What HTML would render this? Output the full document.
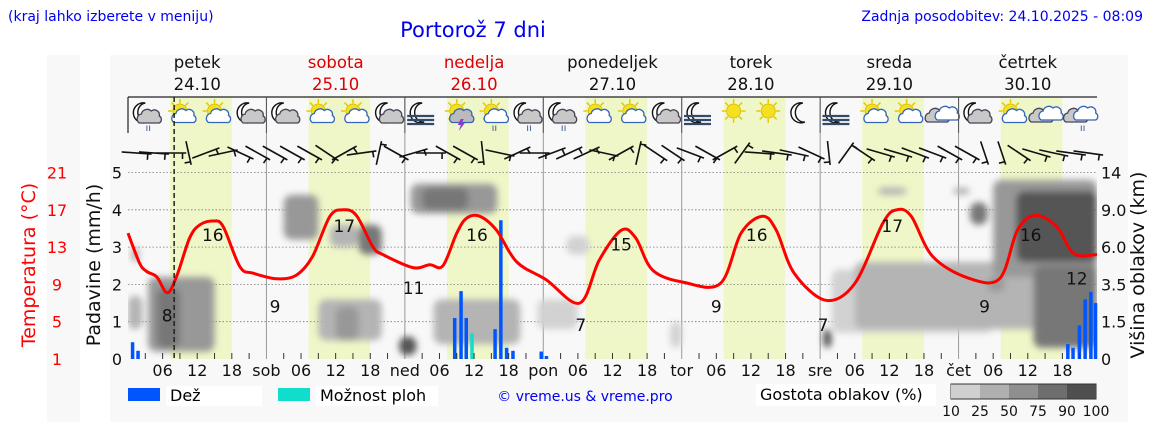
<!DOCTYPE html>
<html><head><meta charset="utf-8"><style>
body{margin:0;background:#fff;font-family:"Liberation Sans","DejaVu Sans",sans-serif;}
svg text{font-family:"DejaVu Sans","Liberation Sans",sans-serif;}
</style></head><body>
<svg id="chart" width="1152" height="443" viewBox="0 0 1152 443" xmlns="http://www.w3.org/2000/svg">
<defs>
<filter id="blur" x="-20%" y="-20%" width="140%" height="140%"><feGaussianBlur stdDeviation="3.5"/></filter>
<clipPath id="plotclip"><rect x="128" y="97" width="969" height="262"/></clipPath>
</defs>
<rect x="47" y="55" width="33" height="367" fill="#f8f8f8"/>
<rect x="110" y="55" width="1018" height="367" fill="#f8f8f8"/>
<text x="8" y="21" font-size="14" fill="#0000ee">(kraj lahko izberete v meniju)</text>
<text x="473" y="37" font-size="21" fill="#0000ee" text-anchor="middle">Portorož 7 dni</text>
<text x="1143" y="21" font-size="14" fill="#0000ee" text-anchor="end">Zadnja posodobitev: 24.10.2025 - 08:09</text>
<g id="bands"></g>
<g id="grid"></g>
<g id="clouds" clip-path="url(#plotclip)"><g id="cloudsb" filter="url(#blur)"></g></g>
<g id="bars"></g>
<g id="temp"></g>
<g id="icons"></g>
<g id="wind"></g>
<g id="axes"></g>
<g id="legend">
<rect x="128" y="388" width="32" height="13" fill="#0055ff"/>
<rect x="166" y="386" width="96" height="20" fill="#fff"/>
<text x="170" y="401" font-size="16">Dež</text>
<rect x="278" y="388" width="32" height="13" fill="#11ddcc"/>
<rect x="316" y="386" width="122" height="20" fill="#fff"/>
<text x="320" y="401" font-size="16">Možnost ploh</text>
<text x="585" y="401" font-size="14" fill="#0000ee" text-anchor="middle">© vreme.us &amp; vreme.pro</text>
<rect x="756" y="384" width="180" height="22" fill="#fff"/>
<text x="760" y="400" font-size="16">Gostota oblakov (%)</text>
<g id="cscale"></g>
</g>
</svg>
<script>
const NS='http://www.w3.org/2000/svg';
const tempHours=[0,2,3.2,5,6.8,8.4,10.7,12.5,14.8,16.5,19.4,21.7,25.8,29.2,32,35,37.3,39.6,42.5,44.2,49.4,52.3,54.6,57,58.7,61,63.9,67.4,72.5,78.3,81.7,85.5,88,91,96.5,102.7,106.3,110,112.4,115.5,121,126,130.9,133.3,135.8,139.5,145.6,151.1,154.2,157.3,161,164,168];
const tempValues=[14.5,11.3,10.4,9.8,8.1,9.8,14.0,15.4,15.8,15.2,10.9,10.2,9.6,10.0,12.0,16.3,17.0,16.4,13.0,12.2,10.8,11.1,11.0,14.5,16.1,16.3,14.8,11.4,9.5,7.0,11.6,14.8,14.0,10.5,9.2,9.1,14.5,16.3,14.8,10.2,7.3,9.1,15.6,17.0,16.3,12.0,9.7,9.6,14.8,16.4,15.2,12.3,12.2];
const tempLabelHours=[6.8,14.7,25.5,37.5,49.5,60.5,78.5,85.5,102,109,120.5,132.5,148.5,156.5,164.5];
const tempLabelValues=[8,16,9,17,11,16,7,15,9,16,7,17,9,16,12];
const rainHours=[0.75,1.7,56.6,57.7,58.6,63.6,64.6,65.6,66.7,71.6,72.5,162.9,163.8,164.9,165.9,166.9,167.7];
const rainValues=[0.45,0.22,1.1,1.82,1.1,0.8,3.72,0.3,0.22,0.2,0.08,0.4,0.3,0.9,1.6,1.8,1.5];
const showerHours=[59.6];
const showerValues=[0.7];
const dayNames=['petek','sobota','nedelja','ponedeljek','torek','sreda','četrtek'];
const dayDates=['24.10','25.10','26.10','27.10','28.10','29.10','30.10'];
const dayShort=['','sob','ned','pon','tor','sre','čet'];
const leftTicks=['1','5','9','13','17','21'];
const rightTicks=['0','1.5','3.5','6.0','9.0','14'];
const cloudStart=[0,0.5,3.5,5,27,33,36,35,40,53,49,51,47,71,76,94,120.5,122,126,130,143,146,150,154,157,149];
const cloudEnd=[2.5,2,15,9,33,44,40,40,44,68,64,59,50,78,80,96,122,150,168,135,146,149,168,168,168,152];
const cloudLow=[0.8,2.6,0.2,0.3,3.2,0.5,0.5,3.0,2.8,0.4,3.9,4.0,0.1,0.8,2.8,0.3,0.3,0.7,0.8,4.4,4.4,3.6,2.2,2.6,0.3,1.8];
const cloudHigh=[1.7,3.0,2.2,1.9,4.4,1.6,1.4,3.6,3.6,1.6,4.7,4.6,0.6,1.6,3.3,1.0,0.8,2.4,2.6,4.6,4.6,4.2,4.8,4.5,2.5,2.2];
const cloudDensity=[25,25,50,75,50,25,50,25,75,25,50,75,90,10,10,10,90,10,25,25,25,75,50,90,75,50];
const windDir=[5,5,0,80,-25,-15,30,35,35,35,35,40,-35,-10,-80,35,-20,0,35,35,85,15,-30,0,-25,-30,-30,15,-35,-80,40,40,25,35,-35,-60,5,10,15,30,85,-60,40,20,20,25,25,35,35,75,75,40,20,15,10,10];
const iconTypes=['mr','sc','sc','mc','mc','sc','sc','mc','fog','st','sr','mr','mr','sc','sc','mc','fog','s','s','m','fog','sc','sc','c','mc','sc','c','cr'];
const shade={10:'#d2d2d2',25:'#b4b4b4',50:'#989898',75:'#777777',90:'#555555',100:'#3c3c3c'};
const X0=128,W=969,YB=359,UNIT=37.3;
function X(h){return X0+h*W/168;}
function Y(v){return YB-v*UNIT;}
function YT(t){return Y((t-1)/4);}
function mk(tag,attrs,parent){const e=document.createElementNS(NS,tag);for(const k in attrs)e.setAttribute(k,attrs[k]);parent.appendChild(e);return e;}
const g=id=>document.getElementById(id);
mk('rect',{x:X0,y:97,width:W,height:262,fill:'#f8f8f8'},g('bands'));
for(let d=0;d<7;d++){
  const b=mk('rect',{x:X(d*24+7.3),y:97,width:X(d*24+18)-X(d*24+7.3),height:262,fill:'#eff7c8'},g('bands'));
  
  
}
for(let v=1;v<=5;v++){mk('line',{x1:X0,x2:X0+W,y1:Y(v),y2:Y(v),stroke:'#777','stroke-width':0.8,'stroke-dasharray':'1.5,2'},g('grid'));}
for(let d=1;d<7;d++){mk('line',{x1:X(d*24),x2:X(d*24),y1:97,y2:359,stroke:'#999','stroke-width':1},g('grid'));}
for(let i=0;i<cloudStart.length;i++){
  const r=mk('rect',{x:X(cloudStart[i]),y:Y(cloudHigh[i]),width:X(cloudEnd[i])-X(cloudStart[i]),height:(cloudHigh[i]-cloudLow[i])*UNIT,rx:8,fill:shade[cloudDensity[i]]},g('cloudsb'));
  
  
}
rainHours.forEach((h,i)=>{
  const r=mk('rect',{x:X(h)-1.5,y:Y(rainValues[i]),width:3.5,height:rainValues[i]*UNIT,fill:'#0055ff'},g('bars'));
  
  
});
showerHours.forEach((h,i)=>{
  const r=mk('rect',{x:X(h)-1.5,y:Y(showerValues[i]),width:3.5,height:showerValues[i]*UNIT,fill:'#11ddcc'},g('bars'));
  
  
});
const pts=tempHours.map((h,i)=>[X(h),YT(tempValues[i])]);
let d='M'+pts[0][0]+','+pts[0][1];
for(let i=0;i<pts.length-1;i++){
  const p0=pts[Math.max(0,i-1)],p1=pts[i],p2=pts[i+1],p3=pts[Math.min(pts.length-1,i+2)];
  const c1=[p1[0]+(p2[0]-p0[0])/6,p1[1]+(p2[1]-p0[1])/6],c2=[p2[0]-(p3[0]-p1[0])/6,p2[1]-(p3[1]-p1[1])/6];
  d+=` C${c1[0].toFixed(1)},${c1[1].toFixed(1)} ${c2[0].toFixed(1)},${c2[1].toFixed(1)} ${p2[0].toFixed(1)},${p2[1].toFixed(1)}`;
}
const tl=mk('path',{d:d,fill:'none',stroke:'#ff0000','stroke-width':3},g('temp'));


tempLabelHours.forEach((h,i)=>{
  const v=tempLabelValues[i];const isMax=v>=14;
  const t=mk('text',{x:X(h),y:isMax?YT(v)+22:YT(v)+28,'font-size':17,'text-anchor':'middle',fill:'#111'},g('temp'));
  t.textContent=v;
  
  
});
mk('line',{x1:X(8),x2:X(8),y1:97,y2:359,stroke:'#222','stroke-width':1.5,'stroke-dasharray':'5,3'},g('axes'));
const ax=g('axes');
mk('line',{x1:X0,x2:X0+W,y1:97,y2:97,stroke:'#222','stroke-width':1.2},ax);
mk('line',{x1:X0,x2:X0,y1:97,y2:133,stroke:'#222','stroke-width':1.2},ax);
for(let d=1;d<7;d++)mk('line',{x1:X(d*24),x2:X(d*24),y1:97,y2:133,stroke:'#555','stroke-width':1},ax);
for(let h=3;h<168;h+=3){mk('line',{x1:X(h),x2:X(h),y1:359,y2:h%24==0?359:353,stroke:'#333','stroke-width':1},ax);}
for(let i=0;i<7;i++){
  const cx=X(i*24+12);const col=(i==1||i==2)?'#dd0000':'#111';
  const n=mk('text',{x:cx,y:68,'font-size':16.5,'text-anchor':'middle',fill:col},ax);n.textContent=dayNames[i];
  
  
  const dt=mk('text',{x:cx,y:90,'font-size':16.5,'text-anchor':'middle',fill:col},ax);dt.textContent=dayDates[i];
  
  
}
for(let h=6;h<168;h+=6){
  const lab=h%24==0?dayShort[h/24]:String(h%24).padStart(2,'0');
  const t=mk('text',{x:X(h),y:376,'font-size':16,'text-anchor':'middle',fill:'#111'},ax);t.textContent=lab;
  
  
}
for(let v=0;v<=5;v++){
  const t=mk('text',{x:122,y:Y(v)+6,'font-size':16,'text-anchor':'end',fill:'#111'},ax);t.textContent=v;
  
  
  const l=mk('text',{x:57,y:Y(v)+6,'font-size':16,'text-anchor':'middle',fill:'#ff0000'},ax);l.textContent=leftTicks[v];
  
  
  const r=mk('text',{x:1101,y:Y(v)+6,'font-size':16,fill:'#111'},ax);r.textContent=rightTicks[v];
  
  
}
function vt(x,y,txt,col,name){const t=mk('text',{x:0,y:0,'font-size':19,'text-anchor':'middle',fill:col,transform:`translate(${x},${y}) rotate(-90)`},ax);t.textContent=txt;}
vt(100,265,'Padavine (mm/h)','#111','y-axis-title-precip');
vt(35,265,'Temperatura (°C)','#ff0000','y-axis-title-temp');
vt(1144,265,'Višina oblakov (km)','#111','y-axis-title-cloud');
windDir.forEach((a,i)=>{
  const h=i*3+1.5;const cx=X(h),cy=153;const r=a*Math.PI/180;
  const L=15;const dx=Math.cos(r)*L,dy=Math.sin(r)*L*0.8;
  const gg=mk('g',{stroke:'#111','stroke-width':1.6,fill:'none'},g('wind'));
  
  
  mk('line',{x1:cx-dx,y1:cy-dy,x2:cx+dx,y2:cy+dy},gg);
  const px=-Math.sin(r),py=Math.cos(r);
  mk('line',{x1:cx+dx*0.75,y1:cy+dy*0.75,x2:cx+dx*0.75+px*6,y2:cy+dy*0.75+py*6},gg);
});
function sun(p,x,y,r){for(let k=0;k<8;k++){const a=k*Math.PI/4;mk('line',{x1:x+Math.cos(a)*r*1.1,y1:y+Math.sin(a)*r*1.1,x2:x+Math.cos(a)*r*1.7,y2:y+Math.sin(a)*r*1.7,stroke:'#e8c800','stroke-width':1.5},p);}mk('circle',{cx:x,cy:y,r:r,fill:'#f5e020',stroke:'#d8b800','stroke-width':0.8},p);}
function moon(p,x,y){mk('path',{d:`M${x+3},${y-10} A10,10 0 1 0 ${x+5},${y+9} A8,9 0 1 1 ${x+3},${y-10} Z`,fill:'#fff',stroke:'#111','stroke-width':1.4},p);}
function cloud(p,x,y,s,fill,st){mk('path',{d:`M${x-10*s},${y+5*s} a5,5 0 0 1 2,-9 a6,6 0 0 1 10,-3 a5,5 0 0 1 8,5 a4,4 0 0 1 0,7 Z`,fill:fill,stroke:st,'stroke-width':1.3},p);}
iconTypes.forEach((t,i)=>{
  const cx=X(i*6+3),cy=114;
  const p=mk('g',{},g('icons'));
  
  
  if(t[0]=='m'||t=='fog')moon(p,cx-3,cy-1);
  if(t[0]=='s'){sun(p,cx,cy-3,7);}
  if(t=='mr'||t=='mc')cloud(p,cx+4,cy+4,1,'#c8c8c8','#445');
  if(t=='sc')cloud(p,cx+3,cy+4,0.9,'#fff','#3366bb');
  if(t=='st'||t=='sr'){cloud(p,cx+4,cy+4,0.9,t=='st'?'#bbbbbb':'#fff','#3366bb');}
  if(t=='c'||t=='cr'){cloud(p,cx-4,cy+3,1,'#c8c8c8','#445');cloud(p,cx+6,cy+1,1,'#fff','#3366bb');}
  if(t=='fog'){for(let k=0;k<3;k++)mk('line',{x1:cx-15,x2:cx+12,y1:cy+2+k*4,y2:cy+2+k*4,stroke:'#334b66','stroke-width':2.2},p);}
  if(t=='mr'||t=='sr'||t=='cr'){const q=mk('text',{x:cx+3,y:cy+17,'font-size':10,fill:'#335588','text-anchor':'middle'},p);q.textContent='ıı';}
  if(t=='st'){mk('path',{d:`M${cx+4},${cy+5} l-3,6 h3 l-2,6 l6,-8 h-3 l2,-4 z`,fill:'#9933cc'},p);}
});
const cs=g('cscale');const lv=[10,25,50,75,90,100];const cols=['#d0d0d0','#b0b0b0','#8f8f8f','#6e6e6e','#4f4f4f'];
mk('rect',{x:951,y:384,width:145,height:15,fill:'#fff',stroke:'#333','stroke-width':1},cs);
cols.forEach((c,i)=>{const r=mk('rect',{x:951+i*29,y:384.5,width:29,height:14,fill:c},cs);});
lv.forEach((v,i)=>{const t=mk('text',{x:951+i*29,y:416,'font-size':14,'text-anchor':'middle',fill:'#111'},cs);t.textContent=v;});
</script>
</body></html>
